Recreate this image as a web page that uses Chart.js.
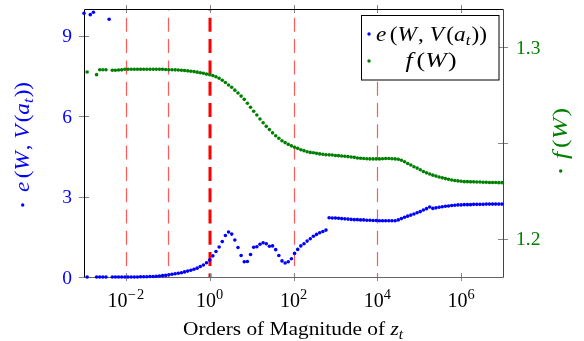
<!DOCTYPE html>
<html>
<head>
<meta charset="utf-8">
<script src="https://cdn.jsdelivr.net/npm/chart.js@4.4.1/dist/chart.umd.min.js"></script>
<style>
  body { margin: 0; background: #fff; }
  #wrap { width: 584px; height: 341px; }
</style>
</head>
<body>
<div id="wrap"><canvas id="chart"></canvas></div>
<script>
// log10 of z_t for every sample
const exponents = [
  -3.000, -2.925, -2.850, -2.775, -2.700, -2.625, -2.550, -2.475, -2.400, -2.325,
  -2.250, -2.175, -2.100, -2.025, -1.950, -1.875, -1.800, -1.725, -1.650, -1.575,
  -1.500, -1.425, -1.350, -1.275, -1.200, -1.125, -1.050, -0.975, -0.900, -0.825,
  -0.750, -0.675, -0.600, -0.525, -0.450, -0.375, -0.300, -0.225, -0.150, -0.075,
   0.000,  0.075,  0.150,  0.225,  0.300,  0.375,  0.450,  0.525,  0.600,  0.675,
   0.750,  0.825,  0.900,  0.975,  1.050,  1.125,  1.200,  1.275,  1.350,  1.425,
   1.500,  1.575,  1.650,  1.725,  1.800,  1.875,  1.950,  2.025,  2.100,  2.175,
   2.250,  2.325,  2.400,  2.475,  2.550,  2.625,  2.700,  2.775,  2.850,  2.925,
   3.000,  3.075,  3.150,  3.225,  3.300,  3.375,  3.450,  3.525,  3.600,  3.675,
   3.750,  3.825,  3.900,  3.975,  4.050,  4.125,  4.200,  4.275,  4.350,  4.425,
   4.500,  4.575,  4.650,  4.725,  4.800,  4.875,  4.950,  5.025,  5.100,  5.175,
   5.250,  5.325,  5.400,  5.475,  5.550,  5.625,  5.700,  5.775,  5.850,  5.925,
   6.000,  6.075,  6.150,  6.225,  6.300,  6.375,  6.450,  6.525,  6.600,  6.675,
   6.750,  6.825,  6.900,  6.975
];

// e(W, V(a_t)) - left axis
const eValues = [
  9.84, 0, 9.79, 9.88, 0, 0, 0, 0, 9.62, 0,
  0, 0, 0, 0, 0, 0, 0, 0, 0.01, 0.01,
  0.01, 0.02, 0.02, 0.03, 0.04, 0.05, 0.06, 0.08, 0.10, 0.12,
  0.14, 0.16, 0.19, 0.22, 0.25, 0.29, 0.33, 0.39, 0.45, 0.53,
  0.63, 0.79, 0.95, 1.12, 1.32, 1.55, 1.68, 1.60, 1.38, 1.10,
  0.80, 0.57, 0.58, 0.84, 1.11, 1.13, 1.22, 1.28, 1.24, 1.15,
  1.16, 1.02, 0.80, 0.60, 0.52, 0.57, 0.68, 0.88, 1.03, 1.16,
  1.24, 1.34, 1.43, 1.52, 1.59, 1.65, 1.70, 1.75, 2.21, 2.20,
  2.20, 2.19, 2.18, 2.17, 2.16, 2.15, 2.14, 2.14, 2.13, 2.13,
  2.12, 2.12, 2.11, 2.11, 2.10, 2.10, 2.10, 2.10, 2.10, 2.10,
  2.13, 2.18, 2.23, 2.27, 2.31, 2.35, 2.40, 2.44, 2.50, 2.55,
  2.61, 2.56, 2.58, 2.60, 2.62, 2.64, 2.65, 2.67, 2.68, 2.69,
  2.69, 2.70, 2.70, 2.70, 2.71, 2.71, 2.71, 2.71, 2.72, 2.72,
  2.72, 2.72, 2.72, 2.72
];

// f(W) - right axis (null where nothing was drawn)
const fValues = [
  null, 1.2871, null, null, 1.2857, 1.2883, 1.2883, 1.2883, null, 1.2880,
  1.2880, 1.2881, 1.2882, 1.2885, 1.2885, 1.2885, 1.2885, 1.2885, 1.2885, 1.2885,
  1.2885, 1.2885, 1.2885, 1.2885, 1.2885, 1.2885, 1.2884, 1.2883, 1.2883, 1.2882,
  1.2881, 1.2880, 1.2879, 1.2877, 1.2875, 1.2873, 1.2870, 1.2867, 1.2864, 1.2860,
  1.2857, 1.2852, 1.2846, 1.2838, 1.2828, 1.2816, 1.2803, 1.2791, 1.2776, 1.2761,
  1.2745, 1.2728, 1.2708, 1.2687, 1.2666, 1.2646, 1.2625, 1.2606, 1.2587, 1.2570,
  1.2553, 1.2538, 1.2525, 1.2512, 1.2502, 1.2493, 1.2485, 1.2478, 1.2472, 1.2465,
  1.2460, 1.2454, 1.2451, 1.2449, 1.2446, 1.2443, 1.2441, 1.2439, 1.2438, 1.2437,
  1.2435, 1.2434, 1.2432, 1.2431, 1.2429, 1.2427, 1.2425, 1.2422, 1.2420, 1.2419,
  1.2418, 1.2417, 1.2417, 1.2417, 1.2417, 1.2418, 1.2419, 1.2419, 1.2418, 1.2417,
  1.2415, 1.2410, 1.2402, 1.2393, 1.2385, 1.2376, 1.2369, 1.2360, 1.2351, 1.2344,
  1.2338, 1.2332, 1.2327, 1.2322, 1.2318, 1.2314, 1.2311, 1.2307, 1.2304, 1.2302,
  1.2300, 1.2298, 1.2298, 1.2297, 1.2297, 1.2296, 1.2296, 1.2295, 1.2295, 1.2294,
  1.2294, 1.2294, 1.2293, 1.2293
];

const xTickExps = [-2, 0, 2, 4, 6];
const leftTicks = [0, 3, 6, 9];
const rightTicks = [1.2, 1.25, 1.3];
const rightTickLabels = ['1.2', '', '1.3'];
const markerExps = [-2, -1, 0, 2, 4];   // dashed verticals, 10^0 is the bold one

const BLUE = '#0000ff';
const GREEN = '#008000';
const SERIF = '"Liberation Serif", "Times New Roman", serif';

// text made of runs: {t, it, sub, sup, gap}
function runFont(r, size) {
  const s = (r.sub || r.sup) ? size * 0.72 : size;
  return (r.it ? 'italic ' : '') + s + 'px ' + SERIF;
}
function runsWidth(ctx, runs, size) {
  let w = 0;
  runs.forEach(r => { ctx.font = runFont(r, size); w += ctx.measureText(r.t).width + (r.gap || 0); });
  return w;
}
// target: optional width to stretch the text to (the original uses wider glyphs)
function drawRuns(ctx, runs, x, y, size, align, target) {
  const w = runsWidth(ctx, runs, size);
  const k = target ? target / w : 1;
  const full = w * k;
  const x0 = align === 'center' ? x - full / 2 : (align === 'right' ? x - full : x);
  ctx.save();
  ctx.translate(x0, y);
  ctx.scale(k, 1);
  ctx.textAlign = 'left';
  ctx.textBaseline = 'alphabetic';
  let cx = 0;
  runs.forEach(r => {
    ctx.font = runFont(r, size);
    const dy = r.sub ? size * 0.22 : (r.sup ? -size * 0.38 : 0);
    ctx.fillText(r.t, cx, dy);
    cx += ctx.measureText(r.t).width + (r.gap || 0);
  });
  ctx.restore();
}
function dot(ctx, x, y, color) {
  ctx.fillStyle = color;
  ctx.beginPath(); ctx.arc(x, y, 1.7, 0, Math.PI * 2); ctx.fill();
}

const eRuns = [
  {t: 'e', it: true, gap: 3}, {t: '('}, {t: 'W', it: true, gap: 1}, {t: ','}, {t: ' '},
  {t: 'V', it: true, gap: 2}, {t: '('}, {t: 'a', it: true}, {t: 't', it: true, sub: true, gap: 1}, {t: ')'}, {t: ')'}
];
const fRuns = [{t: 'f', it: true, gap: 3}, {t: '('}, {t: 'W', it: true, gap: 1}, {t: ')'}];
const FS = 20;

const decor = {
  id: 'decor',
  beforeDatasetsDraw(chart) {
    const {ctx, chartArea: a, scales} = chart;
    ctx.save();
    // dashed markers
    markerExps.forEach(e => {
      const bold = e === 0;
      const px = Math.round(scales.x.getPixelForValue(Math.pow(10, e))) + (bold ? 0 : 0.5);
      ctx.strokeStyle = bold ? '#ff0000' : '#ff5a5a';
      ctx.lineWidth = bold ? 3 : 1.2;
      ctx.setLineDash([14, 7.3]);
      ctx.lineDashOffset = 12.5;
      ctx.beginPath(); ctx.moveTo(px, a.top); ctx.lineTo(px, a.bottom); ctx.stroke();
    });
    ctx.setLineDash([]);

    // ticks
    ctx.strokeStyle = '#888';
    ctx.lineWidth = 1;
    ctx.beginPath();
    xTickExps.forEach(e => {
      const px = Math.round(scales.x.getPixelForValue(Math.pow(10, e))) + 0.5;
      ctx.moveTo(px, a.top - 4); ctx.lineTo(px, a.top + 4);
      ctx.moveTo(px, a.bottom - 4); ctx.lineTo(px, a.bottom + 4);
    });
    leftTicks.forEach(v => {
      const py = Math.round(scales.y.getPixelForValue(v)) + 0.5;
      ctx.moveTo(a.left - 5, py); ctx.lineTo(a.left + 5, py);
    });
    rightTicks.forEach(v => {
      const py = Math.round(scales.y1.getPixelForValue(v)) + 0.5;
      ctx.moveTo(a.right - 5, py); ctx.lineTo(a.right + 5, py);
    });
    ctx.stroke();

    // frame
    const L = Math.round(a.left) + 0.5, R = Math.round(a.right) + 0.5;
    const T = Math.round(a.top) + 0.5, B = Math.round(a.bottom) + 0.5;
    ctx.lineWidth = 1;
    ctx.strokeStyle = '#000';
    ctx.beginPath(); ctx.moveTo(L, B); ctx.lineTo(L, T); ctx.lineTo(R, T); ctx.stroke();
    ctx.strokeStyle = '#444';
    ctx.beginPath(); ctx.moveTo(R, T); ctx.lineTo(R, B); ctx.stroke();
    ctx.strokeStyle = '#666';
    ctx.beginPath(); ctx.moveTo(L, B); ctx.lineTo(R, B); ctx.stroke();
    ctx.restore();
  },
  afterDraw(chart) {
    const {ctx, chartArea: a, scales} = chart;
    ctx.save();
    // tick labels
    ctx.fillStyle = BLUE;
    leftTicks.forEach(v => {
      drawRuns(ctx, [{t: String(v)}], a.left - 12, scales.y.getPixelForValue(v) + 6.6, 19.5, 'right');
    });
    ctx.fillStyle = GREEN;
    rightTicks.forEach((v, i) => {
      if (rightTickLabels[i]) drawRuns(ctx, [{t: rightTickLabels[i]}], a.right + 13, scales.y1.getPixelForValue(v) + 6.6, 19.5, 'left');
    });
    ctx.fillStyle = '#000';
    xTickExps.forEach(e => {
      const px = scales.x.getPixelForValue(Math.pow(10, e));
      const runs = e < 0
        ? [{t: '10'}, {t: '\u2212', sup: true, gap: 1.5}, {t: String(-e), sup: true}]
        : [{t: '10'}, {t: String(e), sup: true}];
      drawRuns(ctx, runs, px, a.bottom + 30, 20, 'center');
    });
    // x title
    drawRuns(ctx, [{t: 'Orders of Magnitude of '}, {t: 'z', it: true}, {t: 't', it: true, sub: true}],
      293, 335, 19, 'center', 220);

    // left y title (rotated)
    ctx.save();
    ctx.translate(29, 205);
    ctx.rotate(-Math.PI / 2);
    dot(ctx, 0, -6.3, BLUE);
    ctx.fillStyle = BLUE;
    drawRuns(ctx, eRuns, 13, 0, FS, 'left', 110);
    ctx.restore();

    // right y title (rotated)
    ctx.save();
    ctx.translate(567, 171);
    ctx.rotate(-Math.PI / 2);
    dot(ctx, 0, -6.3, GREEN);
    ctx.fillStyle = GREEN;
    drawRuns(ctx, fRuns, 12, 0, FS, 'left', 51);
    ctx.restore();

    // legend
    ctx.fillStyle = '#fff';
    ctx.fillRect(361.5, 15.5, 137.5, 64.5);
    ctx.strokeStyle = '#000';
    ctx.lineWidth = 1;
    ctx.strokeRect(361.5, 15.5, 137.5, 64.5);
    dot(ctx, 369, 34, BLUE);
    dot(ctx, 369, 61, GREEN);
    ctx.fillStyle = '#000';
    drawRuns(ctx, eRuns, 376, 40.5, FS, 'left', 111);
    drawRuns(ctx, fRuns, 431, 67, FS, 'center', 51);
    ctx.restore();
  }
};

const eData = exponents.map((e, i) => ({x: Math.pow(10, e), y: eValues[i]}));
const fData = exponents.map((e, i) => ({x: Math.pow(10, e), y: fValues[i]}));

new Chart(document.getElementById('chart'), {
  type: 'scatter',
  data: {
    datasets: [
      {label: 'e', data: eData, yAxisID: 'y', backgroundColor: BLUE, borderColor: BLUE,
       pointRadius: 1.8, pointBorderWidth: 0, showLine: false, clip: false},
      {label: 'f', data: fData, yAxisID: 'y1', backgroundColor: GREEN, borderColor: GREEN,
       pointRadius: 1.8, pointBorderWidth: 0, showLine: false, clip: false}
    ]
  },
  options: {
    responsive: true,
    maintainAspectRatio: false,
    animation: false,
    layout: {padding: {left: 84, right: 81, top: 9, bottom: 64}},
    plugins: {legend: {display: false}, tooltip: {enabled: false}},
    scales: {
      x: {type: 'logarithmic', min: 1e-3, max: 1e7, display: false},
      y: {type: 'linear', min: 0, max: 10, display: false},
      y1: {type: 'linear', min: 1.18, max: 1.32, display: false}
    }
  },
  plugins: [decor]
});
</script>
</body>
</html>
